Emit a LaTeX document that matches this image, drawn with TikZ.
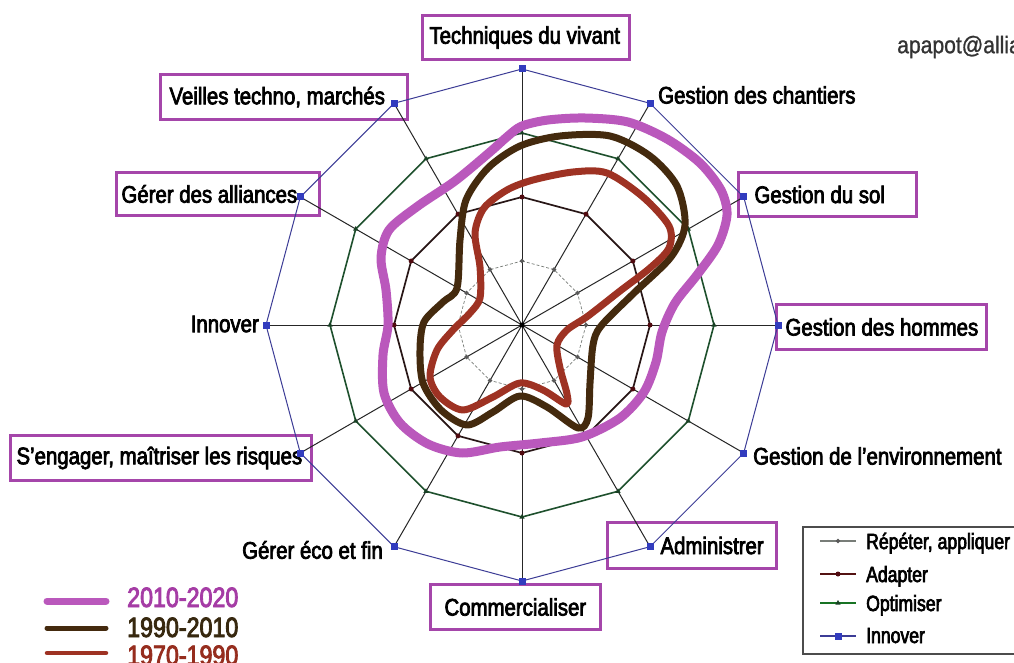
\documentclass[tikz,border=0pt]{standalone}
\usepackage{fontspec}
\setmainfont{Liberation Sans}[FakeStretch=0.85,FakeBold=3]
\newfontfamily\legfont{Liberation Sans}[FakeStretch=0.8,FakeBold=3]
\newfontfamily\yearfont{Liberation Sans}[FakeStretch=0.83,FakeBold=3]
\newfontfamily\mailfont{Liberation Sans}[FakeStretch=0.88,FakeBold=1]
\usetikzlibrary{shapes.geometric}
\definecolor{boxpurple}{RGB}{165,70,170}
\definecolor{magcurve}{RGB}{186,88,188}
\definecolor{browncurve}{RGB}{68,42,14}
\definecolor{redcurve}{RGB}{158,50,35}
\definecolor{ringgray}{RGB}{120,125,120}
\definecolor{ringdark}{RGB}{40,22,22}
\definecolor{adaptmk}{RGB}{80,10,15}
\definecolor{ringgreen}{RGB}{30,80,45}
\definecolor{ringblue}{RGB}{60,60,150}
\definecolor{bluemk}{RGB}{50,60,190}
\definecolor{yearpurple}{RGB}{165,60,165}
\definecolor{yearbrown}{RGB}{55,40,15}
\definecolor{yearred}{RGB}{150,45,30}
\newcommand\boxtxt[3]{\makebox[#2pt][l]{\hspace*{#1pt}#3}}
\begin{document}
\begin{tikzpicture}[x=1pt,y=-1pt,
  lab/.style={font=\fontsize{24}{28}\selectfont, inner sep=0pt},
  labbox/.style={draw=boxpurple, line width=3pt, font=\fontsize{24}{28}\selectfont,
    anchor=north west, inner xsep=0pt, inner ysep=0pt},
  spoke/.style={draw=black!85, line width=1pt},
  ringR/.style={draw=ringgray, line width=0.7pt, densely dashed},
  ringA/.style={draw=ringdark, line width=1.7pt},
  ringO/.style={draw=ringgreen, line width=1.6pt},
  ringI/.style={draw=ringblue, line width=1pt},
  mkR/.style={diamond, fill=black!65, inner sep=0pt, minimum size=5pt},
  mkA/.style={circle, fill=adaptmk, inner sep=0pt, minimum size=5pt},
  mkO/.style={regular polygon, regular polygon sides=3, fill=ringgreen!80!black, inner sep=0pt, minimum size=6pt},
  mkI/.style={rectangle, fill=bluemk, inner sep=0pt, minimum size=7pt},
  magc/.style={draw=magcurve, line width=9pt, line join=round},
  brownc/.style={draw=browncurve, line width=7pt, line join=round},
  redc/.style={draw=redcurve, line width=7pt, line join=round},
  legtxt/.style={font=\legfont\fontsize{22}{26}\selectfont, anchor=base west, inner sep=0pt},
  yeartxt/.style={font=\yearfont\fontsize{28}{32}\selectfont, anchor=base west, inner sep=0pt}
]
\useasboundingbox (0,0) rectangle (1014,663);
\clip (0,0) rectangle (1014,663);
\fill[white] (0,0) rectangle (1014,663);

% radar coordinates
\coordinate (c) at (522,325);
\foreach \k in {0,...,11} {
  \pgfmathsetmacro\ang{90-30*\k}
  \coordinate (a\k) at ({522+64*cos(\ang)},{325-64*sin(\ang)});
  \coordinate (b\k) at ({522+128*cos(\ang)},{325-128*sin(\ang)});
  \coordinate (o\k) at ({522+192*cos(\ang)},{325-192*sin(\ang)});
  \coordinate (d\k) at ({522+256*cos(\ang)},{325-256*sin(\ang)});
}

% label boxes
\node[labbox, minimum height=44pt] (tech) at (421,14) {\boxtxt{7}{207}{Techniques du vivant}};
\node[labbox, minimum height=45pt] (veil) at (159,73) {\boxtxt{9}{247}{Veilles techno, marchés}};
\node[labbox, minimum height=43pt] (alli) at (115,171) {\boxtxt{5}{203}{Gérer des alliances}};
\node[labbox, minimum height=44pt] (sol) at (737,171) {\boxtxt{16}{178}{Gestion du sol}};
\node[labbox, minimum height=45pt] (homm) at (775,303) {\boxtxt{9}{210}{Gestion des hommes}};
\node[labbox, minimum height=45pt] (enga) at (9,434) {\boxtxt{6}{301}{S’engager, maîtriser les risques}};
\node[labbox, minimum height=46pt] (admi) at (606,521) {\boxtxt{53}{169}{Administrer}};
\node[labbox, minimum height=45pt] (comm) at (429,583) {\boxtxt{14}{170}{Commercialiser}};

% plain labels
\node[lab, anchor=west] (chant) at (658,95) {Gestion des chantiers};
\node[lab, anchor=east] (innov) at (259,324) {Innover};
\node[lab, anchor=west] (envi) at (753,456) {Gestion de l’environnement};
\node[lab, anchor=east] (econ) at (383,550) {Gérer éco et fin};
\node[lab, anchor=west, font=\mailfont\fontsize{24}{28}\selectfont, text=black!80] (mail) at (897,47) {apapot@allia};

% spokes
\foreach \k in {0,...,11} { \draw[spoke] (c) -- (d\k); }
\fill[black] (c) circle (2.5pt);

% rings
\draw[ringR] (a0) \foreach \k in {1,...,11} { -- (a\k) } -- cycle;
\draw[ringA] (b0) \foreach \k in {1,...,11} { -- (b\k) } -- cycle;
\draw[ringO] (o0) \foreach \k in {1,...,11} { -- (o\k) } -- cycle;
\draw[ringI] (d0) \foreach \k in {1,...,11} { -- (d\k) } -- cycle;

% markers
\foreach \k in {0,...,11} {
  \node[mkR] (ma\k) at (a\k) {};
  \node[mkA] (mb\k) at (b\k) {};
  \node[mkO] (mo\k) at (o\k) {};
  \node[mkI] (md\k) at (d\k) {};
}

% curves
\draw[magc] plot[smooth cycle] coordinates {
 (522,126) (548,120) (585,118) (628,122) (667,139) (700,163) (721,190) (727,215)
 (718,245) (697,275) (675,303) (662,332) (656,362) (644,392) (620,418) (582,437)
 (540,443) (500,447) (462,453) (428,444) (400,423) (384,393) (383,355) (388,325)
 (386,290) (381,258) (389,230) (418,206) (455,181) (490,152) (508,136)};
\draw[brownc] plot[smooth cycle] coordinates {
 (520,146) (560,136) (610,136) (650,156) (677,186) (685,225) (671,257) (634,293)
 (601,326) (593,345) (590,383) (588,418) (578,428) (547,407) (520,396) (493,412)
 (467,425) (441,410) (423,383) (420,350) (424,322) (443,302) (457,288) (460,240)
 (466,200) (488,168)};
\draw[redc] plot[smooth cycle] coordinates {
 (507,190) (533,180) (573,172) (607,173) (643,197) (669,226) (669,248) (650,268)
 (620,291) (588,316) (567,330) (557,345) (560,368) (567,394) (566,404) (543,390)
 (520,383) (493,397) (463,410) (440,397) (430,377) (437,350) (453,330) (470,313)
 (480,298) (480,267) (475,233) (484,208)};

% level legend
\node[draw=black!70, line width=1.5pt, minimum width=240pt, minimum height=127pt,
  anchor=north west, inner sep=0pt] (legbox) at (802,526) {};
\coordinate (l1a) at (820,541); \coordinate (l1b) at (856,541);
\coordinate (l2a) at (820,574); \coordinate (l2b) at (856,574);
\coordinate (l3a) at (820,603); \coordinate (l3b) at (856,603);
\coordinate (l4a) at (820,636); \coordinate (l4b) at (856,636);
\draw[draw=ringgray, line width=1.2pt] (l1a) -- (l1b);
\draw[draw=ringdark!80!red, line width=1.5pt] (l2a) -- (l2b);
\draw[draw=ringgreen!80!green, line width=1.5pt] (l3a) -- (l3b);
\draw[draw=ringblue, line width=1.5pt] (l4a) -- (l4b);
\node[mkR] (lm1) at (838,541) {};
\node[mkA] (lm2) at (838,574) {};
\node[mkO] (lm3) at (838,603) {};
\node[mkI] (lm4) at (838,636) {};
\node[legtxt] (lt1) at (866,549) {Répéter, appliquer};
\node[legtxt] (lt2) at (866,582) {Adapter};
\node[legtxt] (lt3) at (866,611) {Optimiser};
\node[legtxt] (lt4) at (866,643) {Innover};

% period legend
\coordinate (y1a) at (47,601); \coordinate (y1b) at (106,601);
\coordinate (y2a) at (47,628); \coordinate (y2b) at (106,628);
\coordinate (y3a) at (47,653); \coordinate (y3b) at (106,653);
\draw[draw=magcurve, line width=7pt, line cap=round] (y1a) -- (y1b);
\draw[draw=browncurve, line width=5pt, line cap=round] (y2a) -- (y2b);
\draw[draw=redcurve, line width=4.5pt, line cap=round] (y3a) -- (y3b);
\node[yeartxt, text=yearpurple] (yt1) at (127,607) {2010-2020};
\node[yeartxt, text=yearbrown] (yt2) at (127,637) {1990-2010};
\node[yeartxt, text=yearred] (yt3) at (127,665) {1970-1990};
\end{tikzpicture}
\end{document}
